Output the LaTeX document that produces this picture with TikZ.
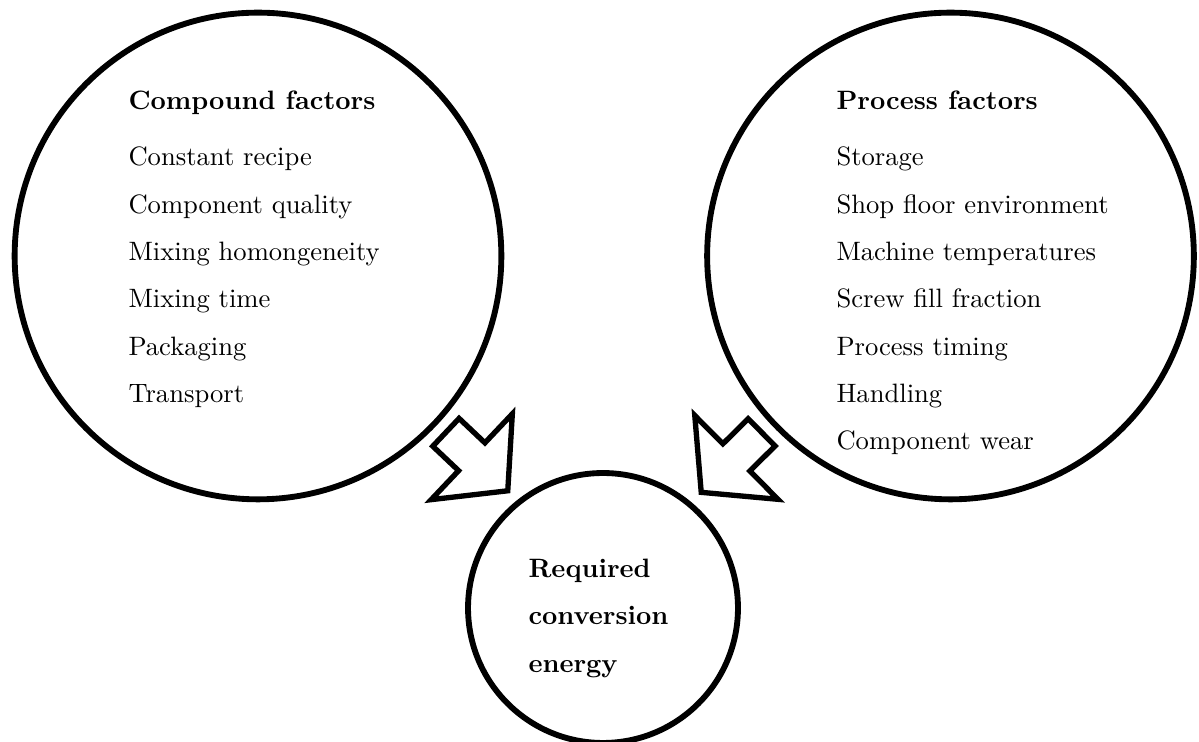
\documentclass[tikz,border=0pt]{standalone}
\usepackage{tikz}
\usetikzlibrary{shapes.arrows}

\begin{document}
\begin{tikzpicture}[x=0.376pt, y=-0.376pt,
  factor/.style={circle, draw=black, line width=2.2pt, minimum size=183pt, inner sep=0pt},
  blockarrow/.style={single arrow, draw=black, line width=2pt, inner sep=6.2pt,
    single arrow head extend=15pt, single arrow tip angle=100,
    minimum height=32pt, anchor=tail},
  entry/.style={anchor=base west, inner sep=0pt}]
  \useasboundingbox (0, 0) rectangle (1199, 742);

  % circles
  \node[factor] (compound) at (258, 256) {};
  \node[factor] (process) at (950.5, 256) {};
  \node[factor, minimum size=101.5pt] (energy) at (603, 608) {};

  % compound factors
  \node[entry, font=\bfseries] (compoundhead) at (128, 110) {Compound factors};
  \foreach \t [count=\i] in {Constant recipe, Component quality, Mixing homongeneity,
      Mixing time, Packaging, Transport}
    \node[entry] (c\i) at (128, {166+47.3*(\i-1)}) {\t};

  % process factors
  \node[entry, font=\bfseries] (processhead) at (836, 110) {Process factors};
  \foreach \t [count=\i] in {Storage, Shop floor environment, Machine temperatures,
      Screw fill fraction, Process timing, Handling, Component wear}
    \node[entry] (p\i) at (836, {166+47.3*(\i-1)}) {\t};

  % result
  \node[entry, font=\bfseries] (e1) at (528, 578) {Required};
  \node[entry, font=\bfseries] (e2) at (528, 625) {conversion};
  \node[entry, font=\bfseries] (e3) at (528, 673) {energy};

  \node[blockarrow, rotate=-43.4] (arrcomp) at (444, 430.5) {};
  \node[blockarrow, rotate=-135.2] (arrproc) at (763.5, 430.5) {};
\end{tikzpicture}
\end{document}
